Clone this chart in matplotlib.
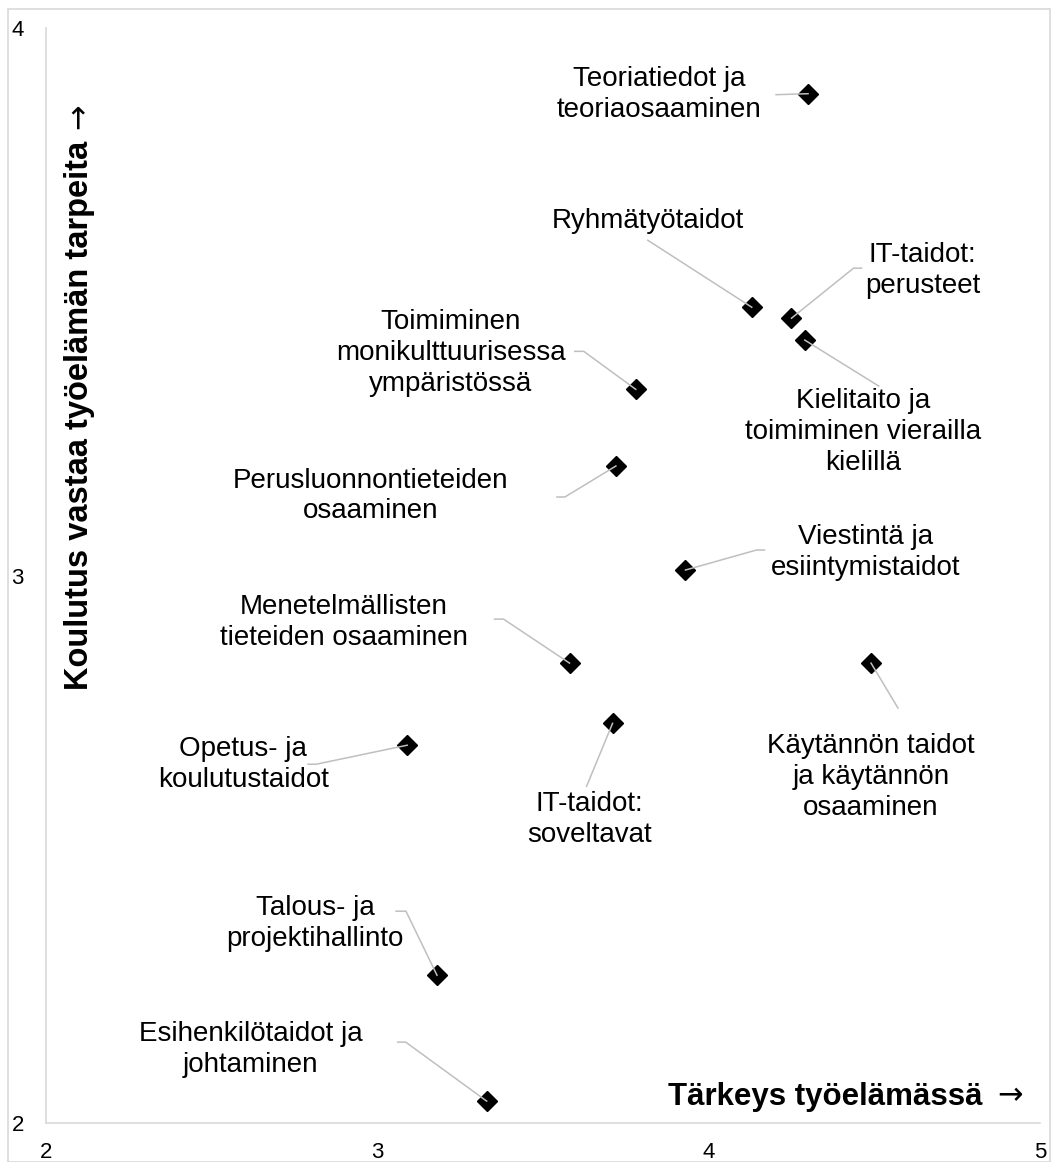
import matplotlib.pyplot as plt
from matplotlib.lines import Line2D
from matplotlib.patches import Rectangle
from matplotlib.transforms import IdentityTransform

plt.rcParams['font.family'] = ['Liberation Sans', 'DejaVu Sans']

# Skill areas: importance in working life (x) vs. how well education meets the need (y)
skills = [
    "Teoriatiedot ja\nteoriaosaaminen",
    "Ryhmätyötaidot",
    "IT-taidot:\nperusteet",
    "Kielitaito ja\ntoimiminen vierailla\nkielillä",
    "Toimiminen\nmonikulttuurisessa\nympäristössä",
    "Perusluonnontieteiden\nosaaminen",
    "Viestintä ja\nesiintymistaidot",
    "Menetelmällisten\ntieteiden osaaminen",
    "Käytännön taidot\nja käytännön\nosaaminen",
    "IT-taidot:\nsoveltavat",
    "Opetus- ja\nkoulutustaidot",
    "Talous- ja\nprojektihallinto",
    "Esihenkilötaidot ja\njohtaminen",
]
importance = [4.30, 4.13, 4.25, 4.29, 3.78, 3.72, 3.93, 3.58, 4.49, 3.71, 3.09, 3.18, 3.33]
match = [3.88, 3.49, 3.47, 3.43, 3.34, 3.20, 3.01, 2.84, 2.84, 2.73, 2.69, 2.27, 2.04]

# label placement in pixels relative to the marker (right, down)
label_off = [(-149, 1), (-104, -86), (131, -48), (58, 92), (-185, -36), (-245, 30),
             (180, -18), (-226, -41), (0, 114), (-23, 96), (-164, 19), (-122, -52),
             (-236, -52)]
# leader line vertices after the marker, in pixels (right, down)
leader_off = [
    [(-32, 1)],
    [(-104, -67)],
    [(62, -50), (70, -50)],
    [(74, 46)],
    [(-52, -38), (-61, -38)],
    [(-51, 31), (-59, 31)],
    [(71, -20), (79, -20)],
    [(-66, -44), (-75, -44)],
    [(27, 45)],
    [(-26, 63)],
    [(-91, 19), (-99, 19)],
    [(-31, -64), (-41, -64)],
    [(-81, -59), (-89, -59)],
]

W, H = 1057, 1162
fig = plt.figure(figsize=(W / 100, H / 100), dpi=100)
ax = fig.add_axes([46 / W, 39 / H, 994 / W, 1095 / H])

ax.set_xlim(2, 5)
ax.set_ylim(2, 4)
ax.set_xticks([2, 3, 4, 5])
ax.set_yticks([2, 3, 4])
ax.tick_params(length=0, labelsize=16, colors='black')
ax.tick_params(axis='x', pad=14)
ax.tick_params(axis='y', pad=16)
for side in ['top', 'right']:
    ax.spines[side].set_visible(False)
for side in ['left', 'bottom']:
    ax.spines[side].set_color('#d9d9d9')
    ax.spines[side].set_linewidth(1.2)

ax.plot(importance, match, linestyle='none', marker='D', ms=10.5,
        color='black', zorder=3)

for name, x, y, (lx, ly), path in zip(skills, importance, match, label_off, leader_off):
    ax.annotate(name, xy=(x, y), xytext=(lx, -ly), textcoords='offset pixels',
                ha='center', va='center', fontsize=20, linespacing=1.25)
    px, py = ax.transData.transform((x, y))
    xs = [px] + [px + dx for dx, dy in path]
    ys = [py] + [py - dy for dx, dy in path]
    ax.add_line(Line2D(xs, ys, transform=IdentityTransform(), color='#bfbfbf',
                       lw=1.1, zorder=4, clip_on=False))

# axis titles: bold words plus a plain arrow
renderer = fig.canvas.get_renderer()
fig.text(982 / W, 1 - 1097 / H, "Tärkeys työelämässä", ha='right', va='center',
         fontsize=22.5, fontweight='bold')
fig.text(997 / W, 1 - 1096 / H, "→", ha='left', va='center', fontsize=22,
         family='DejaVu Sans')

yt = fig.text(80 / W, 1 - 690 / H, "Koulutus vastaa työelämän tarpeita", rotation=90,
              ha='center', va='bottom', fontsize=23.5, fontweight='bold')
top = yt.get_window_extent(renderer).y1
fig.text(79 / W, (top + 12) / H, "→", rotation=90, ha='center', va='bottom',
         fontsize=22, family='DejaVu Sans')

fig.patches.append(Rectangle((8 / W, 0.5 / H), 1042 / W, (H - 9.5) / H,
                             transform=fig.transFigure, fill=False,
                             edgecolor='#d9d9d9', lw=1.2))

fig.savefig("out.png", dpi=100)
